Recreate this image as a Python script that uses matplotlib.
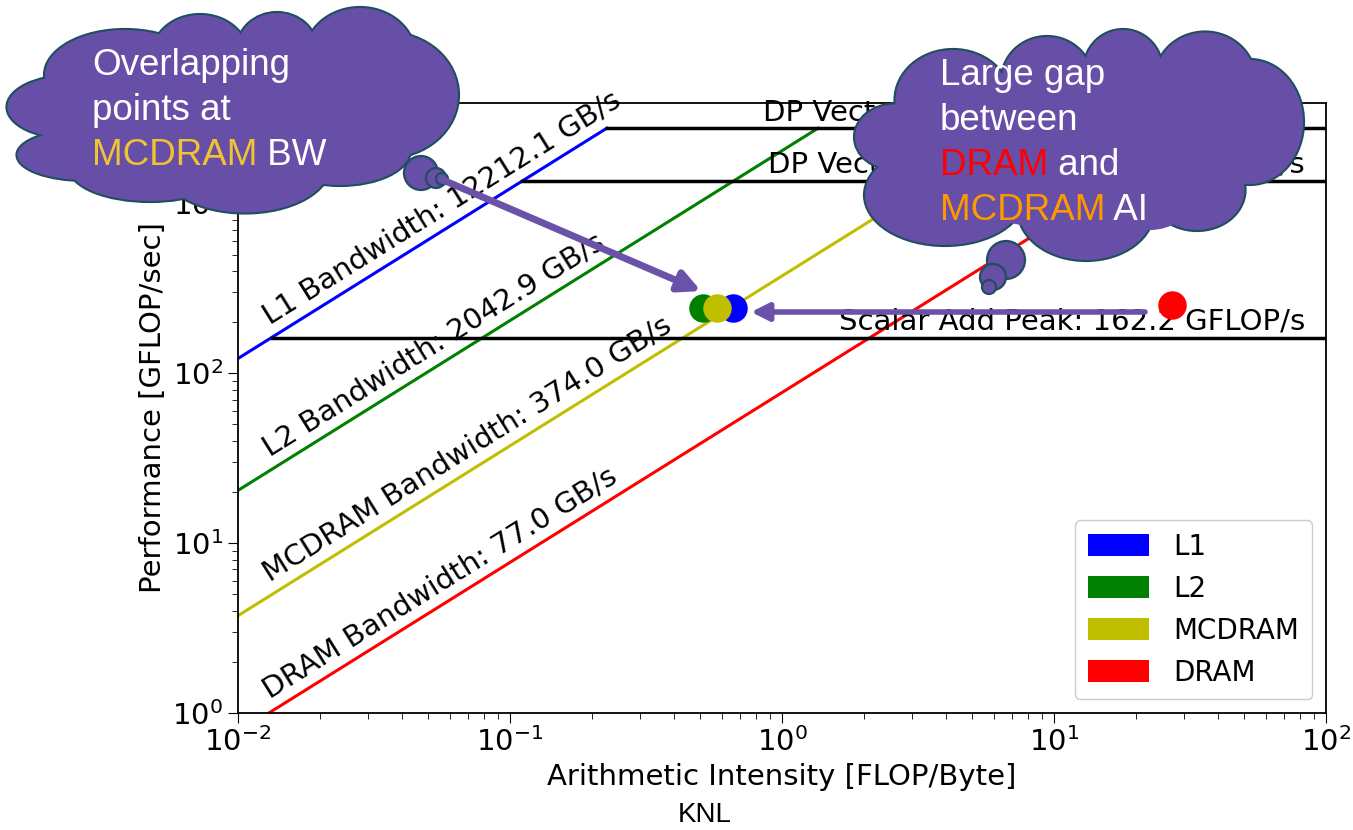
import matplotlib
matplotlib.use('Agg')
import matplotlib.pyplot as plt
import numpy as np
from matplotlib.patches import Patch, Circle, Ellipse, FancyArrowPatch

# roofline data (KNL)
mem_names = ['L1', 'L2', 'MCDRAM', 'DRAM']
mem_bw = [12212.1, 2042.9, 374.0, 77.0]          # GB/s
mem_colors = ['b', 'g', 'y', 'r']

peak_names = ['DP Vector FMA Peak', 'DP Vector Add Peak', 'Scalar Add Peak']
peak_vals = [2771.4, 1352.0, 162.2]              # GFLOP/s

# measured kernel points (AI, GFLOP/s)
pt_ai = [0.66, 0.513, 0.577, 27.2]
pt_perf = [241, 241, 241, 251]
pt_order = [0, 1, 2, 3]

W, H = 1353, 830
fig = plt.figure(figsize=(W / 100, H / 100), dpi=100)
ax = fig.add_axes([238 / W, (H - 713) / H, 1088 / W, 610 / H])
ax.set_xscale('log')
ax.set_yscale('log')
ax.set_xlim(1e-2, 1e2)
ax.set_ylim(1, 3900)

fs = 21
xmin = 1e-2
top = max(peak_vals)

# bandwidth diagonals
for name, bw, c in zip(mem_names, mem_bw, mem_colors):
    x = np.array([xmin, top / bw])
    ax.plot(x, bw * x, color=c, lw=2.2, zorder=2)
    x0 = 0.0131
    ax.text(x0, bw * x0 * 1.2, '%s Bandwidth: %.1f GB/s' % (name, bw),
            rotation=32, rotation_mode='anchor', ha='left', va='baseline',
            fontsize=fs, zorder=3)

# horizontal peaks
for name, pk in zip(peak_names, peak_vals):
    ax.plot([pk / mem_bw[0], 1e2], [pk, pk], color='k', lw=2.5, zorder=2)
    ax.text(83.7, pk * 1.03, '%s: %.1f GFLOP/s' % (name, pk),
            ha='right', va='bottom', fontsize=fs, zorder=3)

# points
for i in pt_order:
    ax.plot(pt_ai[i], pt_perf[i], 'o', color=mem_colors[i], ms=20.5, mew=0, zorder=4)

ax.set_xlabel('Arithmetic Intensity [FLOP/Byte]', fontsize=fs)
ax.set_ylabel('Performance [GFLOP/sec]', fontsize=fs)
ax.tick_params(labelsize=fs)
ax.tick_params(which='major', length=7)
ax.tick_params(which='minor', length=4)
for sp in ax.spines.values():
    sp.set_linewidth(1.3)

handles = [Patch(facecolor=c, edgecolor='none', label=n) for n, c in zip(mem_names, mem_colors)]
ax.legend(handles=handles, loc='lower right', fontsize=20, borderpad=0.45,
          handlelength=2.2, handleheight=0.85, handletextpad=0.9, framealpha=1)

# overlay in pixel coords for the callout clouds
ov = fig.add_axes([0, 0, 1, 1], zorder=10)
ov.set_xlim(0, W)
ov.set_ylim(H, 0)
ov.axis('off')
ov.patch.set_alpha(0)

purple = '#674EA7'
edge = '#1F4E5F'


def cloud(lobes, fillers, bubbles):
    for (cx, cy, w, h) in lobes:
        ov.add_patch(Ellipse((cx, cy), w, h, fc=purple, ec=edge, lw=3))
    for (cx, cy, r) in bubbles:
        ov.add_patch(Circle((cx, cy), r, fc=purple, ec=edge, lw=1.6))
    for (cx, cy, w, h) in lobes + fillers:
        ov.add_patch(Ellipse((cx, cy), w, h, fc=purple, ec='none'))


cloud([(70, 107, 125, 62), (85, 155, 135, 50), (150, 168, 160, 66), (245, 165, 170, 95),
       (340, 150, 140, 70), (387, 95, 142, 125), (360, 56, 110, 96), (277, 50, 80, 74),
       (200, 55, 95, 80), (125, 75, 160, 90)],
      [(230, 110, 330, 140)],
      [(421, 173, 17), (436, 178, 10), (442, 179, 6)])

cloud([(895, 137, 80, 65), (945, 195, 160, 100), (1086, 210, 135, 100), (1197, 190, 95, 80),
       (1250, 122, 106, 124), (1205, 80, 100, 95), (1123, 70, 78, 80), (1047, 80, 90, 86),
       (953, 100, 115, 100)],
      [(1080, 150, 340, 160), (1150, 200, 80, 60)],
      [(1006, 260, 19), (993, 277, 13), (989, 287, 7)])

renderer = fig.canvas.get_renderer()
cfs = 26.5


def words(x, y, parts):
    for w, c in parts:
        t = ov.text(x, y, w, color=c, fontsize=cfs, family='Liberation Sans', va='baseline')
        x += t.get_window_extent(renderer).width


words(92, 75, [('Overlapping', 'white')])
words(92, 120, [('points at', 'white')])
words(92, 165, [('MCDRAM', '#F1C232'), (' BW', 'white')])

words(940, 85, [('Large gap', 'white')])
words(940, 130, [('between', 'white')])
words(940, 175, [('DRAM', '#FF0000'), (' and', 'white')])
words(940, 220, [('MCDRAM', '#FF9900'), (' AI', 'white')])

arrow_col = '#6A52A8'
ov.add_patch(FancyArrowPatch((443, 180), (701, 291), arrowstyle='-|>', mutation_scale=32,
                             color=arrow_col, lw=5, shrinkA=0, shrinkB=0))
ov.add_patch(FancyArrowPatch((1145, 312), (751, 312), arrowstyle='-|>', mutation_scale=26,
                             color=arrow_col, lw=4, shrinkA=0, shrinkB=0))

fig.text(705 / W, 1 - 815 / H, 'KNL', fontsize=20, family='Liberation Sans',
         ha='center', va='center')

fig.savefig('out.png', dpi=100)
